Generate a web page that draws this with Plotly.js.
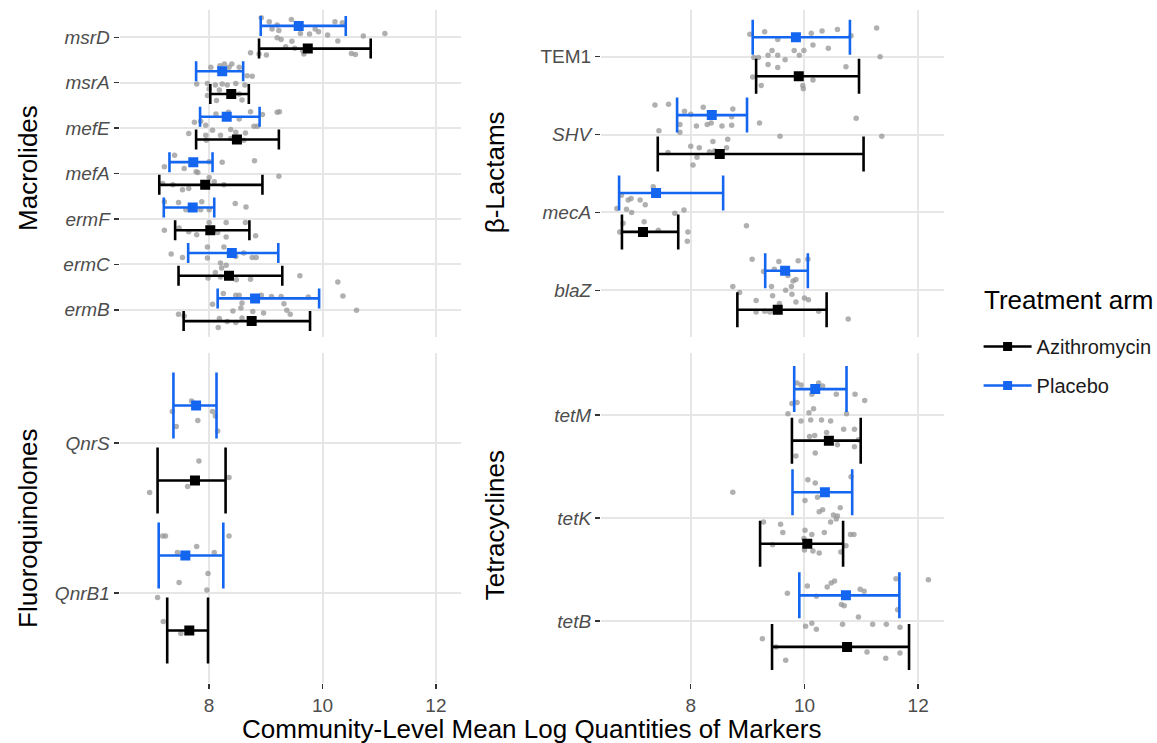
<!DOCTYPE html>
<html><head><meta charset="utf-8">
<script src="https://cdn.plot.ly/plotly-3.0.1.min.js"></script>
<style>html,body{margin:0;padding:0;background:#fff}#chart{width:1157px;height:743px}</style>
</head><body><div id="chart"></div>
<script>
// ---------- Macrolides ----------
const macroGenes = ['ermB','ermC','ermF','mefA','mefE','msrA','msrD'];
const macroTicks = ['<i>ermB</i>','<i>ermC</i>','<i>ermF</i>','<i>mefA</i>','<i>mefE</i>','<i>msrA</i>','<i>msrD</i>'];
const macroPlaMean = [8.81, 8.40, 7.71, 7.72, 8.31, 8.23, 9.58];
const macroPlaLo   = [8.15, 7.63, 7.20, 7.30, 7.84, 7.77, 8.91];
const macroPlaHi   = [9.94, 9.22, 8.09, 8.06, 8.89, 8.60, 10.41];
const macroAziMean = [8.75, 8.35, 8.02, 7.93, 8.49, 8.39, 9.74];
const macroAziLo   = [7.55, 7.46, 7.40, 7.12, 7.77, 8.02, 8.88];
const macroAziHi   = [9.78, 9.29, 8.71, 8.94, 9.23, 8.70, 10.85];
// community points: [gene, value, vertical jitter (category units)]
const macroPoints = [
 ['msrD',8.92,0.43],['msrD',9.06,0.34],['msrD',9.20,0.27],['msrD',9.45,0.39],['msrD',9.87,0.18],['msrD',10.22,0.34],
 ['msrD',10.35,0.32],['msrD',9.11,0.18],['msrD',9.23,0.15],['msrD',9.61,0.08],['msrD',9.77,0.07],['msrD',9.93,0.12],
 ['msrD',10.09,0.05],['msrD',10.72,0.03],['msrD',11.10,0.08],['msrD',9.20,-0.01],['msrD',9.27,-0.05],['msrD',9.46,-0.09],
 ['msrD',10.27,-0.08],['msrD',9.35,-0.21],['msrD',9.51,-0.24],['msrD',9.65,-0.30],['msrD',9.67,-0.37],['msrD',10.51,-0.36],
 ['msrD',10.58,-0.38],['msrD',8.73,-0.34],['msrD',8.88,-0.37],['msrD',9.01,-0.39],
 ['msrA',8.03,0.34],['msrA',8.19,0.37],['msrA',8.27,0.41],['msrA',8.40,0.41],['msrA',8.35,0.34],['msrA',8.53,0.34],
 ['msrA',8.67,0.15],['msrA',8.76,0.14],['msrA',7.78,-0.03],['msrA',7.97,-0.02],['msrA',8.11,-0.05],['msrA',8.23,-0.03],
 ['msrA',8.32,-0.05],['msrA',8.47,-0.02],['msrA',8.63,-0.05],['msrA',8.00,-0.14],['msrA',8.18,-0.16],['msrA',7.97,-0.28],
 ['msrA',8.53,-0.25],['msrA',8.58,-0.38],['msrA',8.13,-0.39],
 ['mefE',7.85,0.15],['mefE',8.12,0.31],['mefE',8.34,0.35],['mefE',8.73,0.36],['mefE',8.94,0.30],['mefE',9.20,0.35],
 ['mefE',9.24,0.36],['mefE',8.53,0.20],['mefE',7.74,0.13],['mefE',8.79,0.04],['mefE',8.85,0.04],['mefE',7.94,0.06],
 ['mefE',8.06,-0.05],['mefE',8.38,-0.03],['mefE',8.47,-0.09],['mefE',7.64,-0.12],['mefE',7.94,-0.16],['mefE',8.64,-0.11],
 ['mefE',8.20,-0.16],['mefE',8.38,-0.23],['mefE',8.61,-0.27],['mefE',7.95,-0.27],
 ['mefA',7.39,0.40],['mefA',7.21,0.15],['mefA',7.77,0.04],['mefA',7.80,0.02],['mefA',8.00,0.26],['mefA',8.23,0.25],
 ['mefA',8.80,0.28],['mefA',7.56,0.11],['mefA',9.23,-0.06],['mefA',7.18,-0.22],['mefA',7.36,-0.25],['mefA',7.53,-0.36],
 ['mefA',7.64,-0.33],['mefA',8.09,-0.18],['mefA',8.26,-0.25],['mefA',8.00,-0.09],
 ['ermF',7.21,0.38],['ermF',7.46,0.36],['ermF',7.87,0.38],['ermF',8.46,0.34],['ermF',8.65,0.26],['ermF',7.59,0.20],
 ['ermF',7.85,0.20],['ermF',8.00,0.20],['ermF',7.21,-0.25],['ermF',8.00,-0.08],['ermF',8.30,-0.08],['ermF',8.64,-0.08],
 ['ermF',7.64,-0.28],['ermF',7.78,-0.35],['ermF',8.30,-0.40],['ermF',8.82,-0.37],['ermF',7.47,-0.20],['ermF',8.15,-0.30],
 ['ermC',7.33,0.23],['ermC',7.53,0.15],['ermC',7.97,0.38],['ermC',8.26,0.38],['ermC',8.61,0.25],['ermC',8.76,0.15],
 ['ermC',8.83,0.15],['ermC',7.97,0.14],['ermC',8.47,0.17],['ermC',8.20,0.03],['ermC',8.22,-0.08],['ermC',8.30,-0.02],
 ['ermC',8.11,-0.18],['ermC',8.20,-0.28],['ermC',8.48,-0.34],['ermC',8.73,-0.33],['ermC',9.60,-0.25],['ermC',7.98,-0.30],
 ['ermB',10.27,0.61],['ermB',10.36,0.30],['ermB',10.60,-0.01],['ermB',8.25,0.36],['ermB',8.47,0.32],['ermB',8.53,0.32],
 ['ermB',8.92,0.32],['ermB',9.10,0.29],['ermB',9.27,0.29],['ermB',9.75,0.28],['ermB',8.06,0.12],['ermB',8.58,0.15],
 ['ermB',9.32,0.13],['ermB',8.56,0.04],['ermB',8.42,-0.03],['ermB',8.77,-0.04],['ermB',8.96,-0.07],['ermB',9.37,-0.01],
 ['ermB',9.43,-0.10],['ermB',7.46,-0.10],['ermB',7.56,-0.14],['ermB',8.18,-0.19],['ermB',8.32,-0.26],['ermB',8.47,-0.28],
 ['ermB',8.58,-0.18],['ermB',8.16,-0.39]
];

// ---------- beta-Lactams ----------
const lactGenes = ['blaZ','mecA','SHV','TEM1'];
const lactTicks = ['<i>blaZ</i>','<i>mecA</i>','<i>SHV</i>','TEM1'];
const lactPlaMean = [9.66, 7.39, 8.37, 9.85];
const lactPlaLo   = [9.31, 6.74, 7.76, 9.09];
const lactPlaHi   = [10.06, 8.57, 8.99, 10.80];
const lactAziMean = [9.53, 7.16, 8.51, 9.90];
const lactAziLo   = [8.82, 6.79, 7.42, 9.15];
const lactAziHi   = [10.39, 7.78, 11.04, 10.96];
const lactPoints = [
 ['TEM1',9.04,0.29],['TEM1',9.30,0.32],['TEM1',9.53,0.22],['TEM1',10.12,0.30],['TEM1',10.31,0.33],['TEM1',10.58,0.35],
 ['TEM1',11.27,0.37],['TEM1',10.82,0.27],['TEM1',10.15,0.15],['TEM1',10.42,0.11],['TEM1',9.43,0.08],['TEM1',9.36,0.02],
 ['TEM1',9.53,0.02],['TEM1',9.66,-0.04],['TEM1',9.82,0.08],['TEM1',9.91,0.02],['TEM1',9.99,0.08],['TEM1',9.11,-0.01],
 ['TEM1',9.19,-0.01],['TEM1',11.33,0.00],['TEM1',9.36,-0.10],['TEM1',9.53,-0.14],['TEM1',10.73,-0.13],['TEM1',9.09,-0.26],
 ['TEM1',9.24,-0.37],['TEM1',9.97,-0.37],['TEM1',9.98,-0.41],['TEM1',10.15,-0.30],
 ['SHV',7.37,0.38],['SHV',7.61,0.39],['SHV',7.89,0.30],['SHV',8.00,0.26],['SHV',8.22,0.35],['SHV',8.74,0.33],
 ['SHV',8.72,0.23],['SHV',7.81,0.13],['SHV',8.10,0.11],['SHV',8.29,0.13],['SHV',8.36,0.15],['SHV',8.55,0.11],
 ['SHV',8.72,0.12],['SHV',9.21,0.15],['SHV',10.91,0.21],['SHV',7.44,0.05],['SHV',7.81,0.03],['SHV',9.57,-0.02],
 ['SHV',11.36,-0.02],['SHV',8.65,-0.06],['SHV',8.00,-0.15],['SHV',8.15,-0.17],['SHV',8.39,-0.09],['SHV',8.63,-0.17],
 ['SHV',8.33,-0.22],['SHV',8.42,-0.21],['SHV',7.60,-0.23],['SHV',8.11,-0.29],['SHV',8.04,-0.39],['SHV',8.51,-0.27],
 ['mecA',7.34,0.33],['mecA',6.78,0.22],['mecA',6.90,0.16],['mecA',6.95,0.18],['mecA',7.11,0.16],['mecA',7.20,0.10],
 ['mecA',6.70,0.05],['mecA',6.87,0.04],['mecA',6.96,0.00],['mecA',7.72,-0.01],['mecA',7.88,0.03],['mecA',6.75,-0.25],
 ['mecA',7.18,-0.12],['mecA',7.43,-0.23],['mecA',7.95,-0.25],['mecA',7.94,-0.37],['mecA',8.98,-0.17],['mecA',6.81,-0.14],
 ['blaZ',9.08,0.40],['blaZ',9.55,0.37],['blaZ',9.89,0.38],['blaZ',10.06,0.40],['blaZ',9.28,0.24],['blaZ',9.47,0.27],
 ['blaZ',9.71,0.19],['blaZ',9.80,0.12],['blaZ',9.85,0.14],['blaZ',9.42,0.05],['blaZ',9.77,0.05],['blaZ',8.74,0.05],
 ['blaZ',8.86,-0.03],['blaZ',9.67,0.00],['blaZ',9.78,-0.05],['blaZ',9.44,-0.07],['blaZ',9.15,-0.13],['blaZ',9.85,-0.15],
 ['blaZ',10.00,-0.10],['blaZ',10.07,-0.12],['blaZ',9.56,-0.17],['blaZ',9.15,-0.28],['blaZ',9.30,-0.27],['blaZ',9.39,-0.28],
 ['blaZ',10.25,-0.27],['blaZ',10.77,-0.37]
];

// ---------- Fluoroquinolones ----------
const fluoGenes = ['QnrB1','QnrS'];
const fluoTicks = ['<i>QnrB1</i>','<i>QnrS</i>'];
const fluoPlaMean = [7.58, 7.77];
const fluoPlaLo   = [7.11, 7.37];
const fluoPlaHi   = [8.25, 8.13];
const fluoAziMean = [7.65, 7.75];
const fluoAziLo   = [7.26, 7.09];
const fluoAziHi   = [7.98, 8.29];
const fluoPoints = [
 ['QnrS',7.69,0.28],['QnrS',7.35,0.21],['QnrS',7.80,0.15],['QnrS',8.06,0.21],['QnrS',8.11,0.18],['QnrS',7.42,0.11],
 ['QnrS',8.15,0.08],['QnrS',7.82,-0.12],['QnrS',8.35,-0.23],['QnrS',7.62,-0.29],['QnrS',6.95,-0.33],
 ['QnrB1',7.18,0.38],['QnrB1',7.23,0.38],['QnrB1',8.35,0.38],['QnrB1',7.78,0.31],['QnrB1',7.44,0.27],['QnrB1',8.09,0.27],
 ['QnrB1',7.98,0.13],['QnrB1',7.47,0.07],['QnrB1',7.96,0.02],['QnrB1',7.09,-0.03],['QnrB1',7.19,-0.19],['QnrB1',7.50,-0.27]
];

// ---------- Tetracyclines ----------
const tetGenes = ['tetB','tetK','tetM'];
const tetTicks = ['<i>tetB</i>','<i>tetK</i>','<i>tetM</i>'];
const tetPlaMean = [10.73, 10.36, 10.19];
const tetPlaLo   = [9.91, 9.79, 9.82];
const tetPlaHi   = [11.67, 10.84, 10.74];
const tetAziMean = [10.75, 10.05, 10.43];
const tetAziLo   = [9.43, 9.22, 9.78];
const tetAziHi   = [11.84, 10.68, 10.99];
const tetPoints = [
 ['tetM',9.87,0.31],['tetM',9.94,0.29],['tetM',10.25,0.31],['tetM',10.32,0.28],['tetM',10.13,0.20],['tetM',10.56,0.20],
 ['tetM',10.89,0.20],['tetM',11.06,0.14],['tetM',9.78,0.11],['tetM',9.87,0.12],['tetM',10.16,0.06],['tetM',9.71,0.01],
 ['tetM',10.08,0.02],['tetM',10.74,0.01],['tetM',9.94,-0.06],['tetM',10.11,-0.05],['tetM',10.30,-0.05],['tetM',10.46,-0.06],
 ['tetM',10.69,-0.14],['tetM',10.88,-0.14],['tetM',10.39,-0.17],['tetM',10.09,-0.21],['tetM',10.18,-0.20],['tetM',10.95,-0.24],
 ['tetM',10.88,-0.31],['tetM',10.58,-0.29],['tetM',9.85,-0.40],['tetM',10.19,-0.37],
 ['tetK',8.74,0.25],['tetK',10.06,0.37],['tetK',10.19,0.34],['tetK',10.82,0.40],['tetK',10.01,0.17],['tetK',10.23,0.20],
 ['tetK',10.63,0.10],['tetK',10.32,0.08],['tetK',10.26,0.06],['tetK',10.51,0.03],['tetK',10.58,0.02],['tetK',9.28,-0.04],
 ['tetK',9.58,-0.06],['tetK',9.62,-0.14],['tetK',10.01,-0.12],['tetK',10.13,-0.16],['tetK',10.35,-0.14],['tetK',10.46,-0.04],
 ['tetK',10.56,-0.01],['tetK',10.81,-0.16],['tetK',10.87,-0.16],['tetK',9.44,-0.26],['tetK',10.00,-0.31],['tetK',10.15,-0.32],
 ['tetK',10.26,-0.34],['tetK',10.73,-0.27],['tetK',10.64,-0.33],['tetK',9.99,-0.20],
 ['tetB',12.18,0.40],['tetB',11.61,0.41],['tetB',10.53,0.39],['tetB',10.47,0.37],['tetB',10.40,0.33],['tetB',10.98,0.31],
 ['tetB',11.05,0.29],['tetB',10.05,0.34],['tetB',9.70,0.27],['tetB',10.21,0.24],['tetB',10.65,0.16],['tetB',10.70,0.15],
 ['tetB',11.64,0.11],['tetB',10.95,0.04],['tetB',10.02,-0.05],['tetB',10.13,-0.02],['tetB',10.21,-0.08],['tetB',10.67,-0.03],
 ['tetB',11.20,-0.03],['tetB',11.44,-0.03],['tetB',11.68,-0.06],['tetB',9.26,-0.17],['tetB',9.50,-0.25],['tetB',11.10,-0.30],
 ['tetB',11.68,-0.31],['tetB',11.43,-0.36],['tetB',9.67,-0.38]
];

// ---------- styling ----------
const W = 1157, H = 743;
const AZI = '#000000', PLA = '#1466f0';
const FONT = 'Liberation Sans, Arial, Helvetica, sans-serif';
const dodge = 0.25;

function panelTraces(genes, pts, pM, pL, pH, aM, aL, aH, xa, ya, capHalf) {
  const idx = g => genes.indexOf(g) + 1;
  const tr = [];
  tr.push({type:'scatter', mode:'markers', xaxis:xa, yaxis:ya, showlegend:false, hoverinfo:'x',
    x: pts.map(p => p[1]), y: pts.map(p => idx(p[0]) + p[2]),
    marker:{size:5.5, color:'rgba(150,150,150,0.75)'}});
  const arm = (mean, lo, hi, off, col, name) => ({type:'scatter', mode:'markers', xaxis:xa, yaxis:ya,
    showlegend:false, name:name, x: mean, y: genes.map((g,i) => i + 1 + off),
    marker:{symbol:'square', size:10, color:col},
    error_x:{type:'data', symmetric:false, array: mean.map((m,i) => hi[i]-m),
      arrayminus: mean.map((m,i) => m-lo[i]), color:col, thickness:2.6, width:capHalf}});
  tr.push(arm(aM, aL, aH, -dodge, AZI, 'Azithromycin'));
  tr.push(arm(pM, pL, pH, dodge, PLA, 'Placebo'));
  return tr;
}

const data = [].concat(
  panelTraces(macroGenes, macroPoints, macroPlaMean, macroPlaLo, macroPlaHi, macroAziMean, macroAziLo, macroAziHi, 'x', 'y', 10),
  panelTraces(lactGenes, lactPoints, lactPlaMean, lactPlaLo, lactPlaHi, lactAziMean, lactAziLo, lactAziHi, 'x2', 'y2', 17.5),
  panelTraces(fluoGenes, fluoPoints, fluoPlaMean, fluoPlaLo, fluoPlaHi, fluoAziMean, fluoAziLo, fluoAziHi, 'x3', 'y3', 33),
  panelTraces(tetGenes, tetPoints, tetPlaMean, tetPlaLo, tetPlaHi, tetAziMean, tetAziLo, tetAziHi, 'x4', 'y4', 23)
);
// legend keys
data.push({type:'scatter', mode:'lines+markers', x:[null], y:[null], name:'Azithromycin', legendgroup:'a',
  line:{color:AZI, width:2.6}, marker:{symbol:'square', size:9, color:AZI}, showlegend:true});
data.push({type:'scatter', mode:'lines+markers', x:[null], y:[null], name:'Placebo', legendgroup:'p',
  line:{color:PLA, width:2.6}, marker:{symbol:'square', size:9, color:PLA}, showlegend:true});

const xRange = [6.42, 12.45];
const leftDom = [120/W, 463/W], rightDom = [603/W, 947/W];
const topDom = [1-337/H, 1-10/H], botDom = [1-683/H, 1-353/H];
const tickFont = {family:FONT, size:19, color:'#4d4d4d'};

function xAxis(dom, anchor, labels) {
  return {domain:dom, anchor:anchor, range:xRange, tickvals:[8,10,12], ticktext:['8','10','12'],
    showticklabels:labels, ticks: labels ? 'outside' : '', ticklen:5, tickwidth:1.5, tickcolor:'#333333',
    tickfont:tickFont, showgrid:true, gridcolor:'#e6e6e6', gridwidth:2, zeroline:false, showline:false, fixedrange:true};
}
function yAxis(dom, anchor, n, ticks) {
  return {domain:dom, anchor:anchor, range:[0.4, n + 0.6], tickvals: ticks.map((t,i) => i+1), ticktext: ticks,
    ticks:'outside', ticklen:5, tickwidth:1.5, tickcolor:'#333333', tickfont:tickFont,
    showgrid:true, gridcolor:'#e6e6e6', gridwidth:2, zeroline:false, showline:false, fixedrange:true};
}

const titleFont = {family:FONT, size:26, color:'#000000'};
const ann = (text, px, py, angle) => ({text:text, xref:'paper', yref:'paper', x:px/W, y:1-py/H,
  xanchor:'center', yanchor:'middle', textangle:angle, showarrow:false, font:titleFont});
const layout = {
  width:W, height:H, margin:{l:0, r:0, t:0, b:0}, paper_bgcolor:'#ffffff', plot_bgcolor:'#ffffff',
  font:{family:FONT},
  xaxis: xAxis(leftDom, 'y', false),
  yaxis: yAxis(topDom, 'x', macroGenes.length, macroTicks),
  xaxis2: xAxis(rightDom, 'y2', false),
  yaxis2: yAxis(topDom, 'x2', lactGenes.length, lactTicks),
  xaxis3: xAxis(leftDom, 'y3', true),
  yaxis3: yAxis(botDom, 'x3', fluoGenes.length, fluoTicks),
  xaxis4: xAxis(rightDom, 'y4', true),
  yaxis4: yAxis(botDom, 'x4', tetGenes.length, tetTicks),
  showlegend:true,
  legend:{x:982/W, y:1-327/H, xanchor:'left', yanchor:'top', bgcolor:'rgba(0,0,0,0)',
    font:{family:FONT, size:20, color:'#1a1a1a'}, tracegroupgap:10, traceorder:'grouped', itemwidth:48},
  annotations:[
    ann('Macrolides', 28, 168, -90),
    ann('β-Lactams', 497, 172, -90),
    ann('Fluoroquinolones', 28, 528, -90),
    ann('Tetracyclines', 497, 525, -90),
    ann('Community-Level Mean Log Quantities of Markers', 533.5, 729, 0),
    {text:'Treatment arm', xref:'paper', yref:'paper', x:985/W, y:1-300/H, xanchor:'left', yanchor:'middle',
      showarrow:false, font:titleFont}
  ]
};
Plotly.newPlot('chart', data, layout, {displayModeBar:false, staticPlot:true});
</script></body></html>
